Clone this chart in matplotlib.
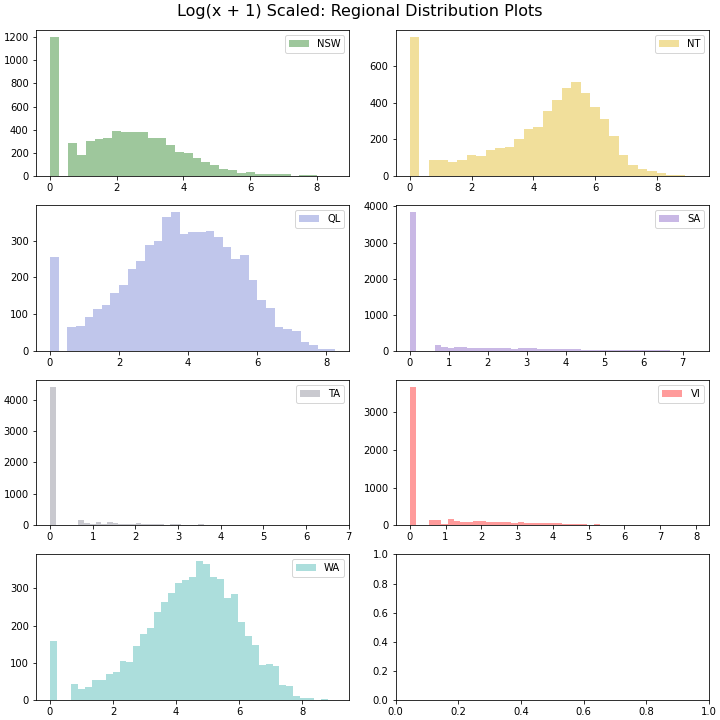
import numpy as np
import matplotlib
matplotlib.use("Agg")
import matplotlib.pyplot as plt

regions = ["NSW", "NT", "QL", "SA", "TA", "VI", "WA"]
colors = ["#9ec79c", "#f1df9b", "#c0c6eb", "#c9b8e5", "#c9c9cf", "#ff9b9b", "#acdedc"]

# maximum of log(x+1) values per region (histogram range is [0, max])
data_max = [8.55, 9.22, 8.26, 7.31, 6.68, 7.97, 9.04]

nsw_counts = [1200, 0, 281, 178, 299, 316, 325, 385, 376, 376, 376, 325, 325, 264, 204, 195,
              152, 118, 92, 57, 49, 23, 32, 14, 14, 14, 14, 0, 11, 11, 2, 1]
nt_counts = [760, 0, 89, 89, 78, 89, 116, 111, 144, 155, 160, 204, 258, 269, 356, 416,
             482, 515, 455, 378, 313, 216, 116, 62, 40, 25, 13, 6, 2, 1]
ql_counts = [256, 0, 65, 68, 92, 114, 125, 158, 180, 223, 245, 288, 299, 364, 378, 318,
             323, 323, 326, 310, 283, 250, 261, 193, 139, 117, 65, 60, 52, 24, 14, 3, 3]
sa_counts = [3850, 0, 0, 0, 166, 111, 83, 111, 85, 82, 84, 80, 82, 78, 80, 81,
             55, 83, 82, 80, 56, 55, 54, 55, 53, 54, 52, 28, 28, 27, 26, 4,
             28, 6, 5, 4, 3, 3, 2, 2, 2, 1, 1, 1, 1]
ta_counts = [4412, 0, 0, 0, 0, 180, 85, 53, 116, 53, 116, 85, 53, 53, 53, 85,
             53, 53, 53, 53, 21, 53, 53, 21, 21, 21, 53, 21, 21, 21, 21, 21,
             21, 21, 21, 21, 21, 21, 21, 0, 21, 21, 21, 0, 0, 21, 0, 0, 0, 21]
vi_counts = [3678, 0, 0, 150, 150, 44, 176, 123, 97, 97, 123, 123, 97, 97, 97, 97,
             70, 97, 70, 70, 70, 70, 70, 70, 44, 44, 44, 44, 18, 44, 18, 18,
             18, 18, 18, 18, 18, 18, 18, 18, 0, 18, 18, 18, 18]
wa_counts = [158, 0, 0, 44, 30, 36, 54, 54, 71, 76, 105, 103, 146, 178, 194, 237,
             263, 288, 314, 322, 330, 373, 365, 330, 325, 274, 285, 210, 172, 148, 95, 97,
             92, 41, 38, 12, 6, 4, 0, 3, 1]

all_counts = [nsw_counts, nt_counts, ql_counts, sa_counts, ta_counts, vi_counts, wa_counts]

fig, axes = plt.subplots(4, 2, figsize=(10, 10), dpi=72)
fig.subplots_adjust(left=0.0496, right=0.985, top=0.958, bottom=0.0278,
                    hspace=0.2, wspace=0.147)
fig.suptitle("Log(x + 1) Scaled: Regional Distribution Plots", fontsize=16, y=0.995)

for ax, name, col, mx, counts in zip(axes.flat, regions, colors, data_max, all_counts):
    edges = np.linspace(0, mx, len(counts) + 1)
    centers = (edges[:-1] + edges[1:]) / 2
    ax.hist(centers, bins=edges, weights=counts, color=col, label=name)
    ax.legend(loc="upper right")

plt.savefig("out.png", dpi=72)
